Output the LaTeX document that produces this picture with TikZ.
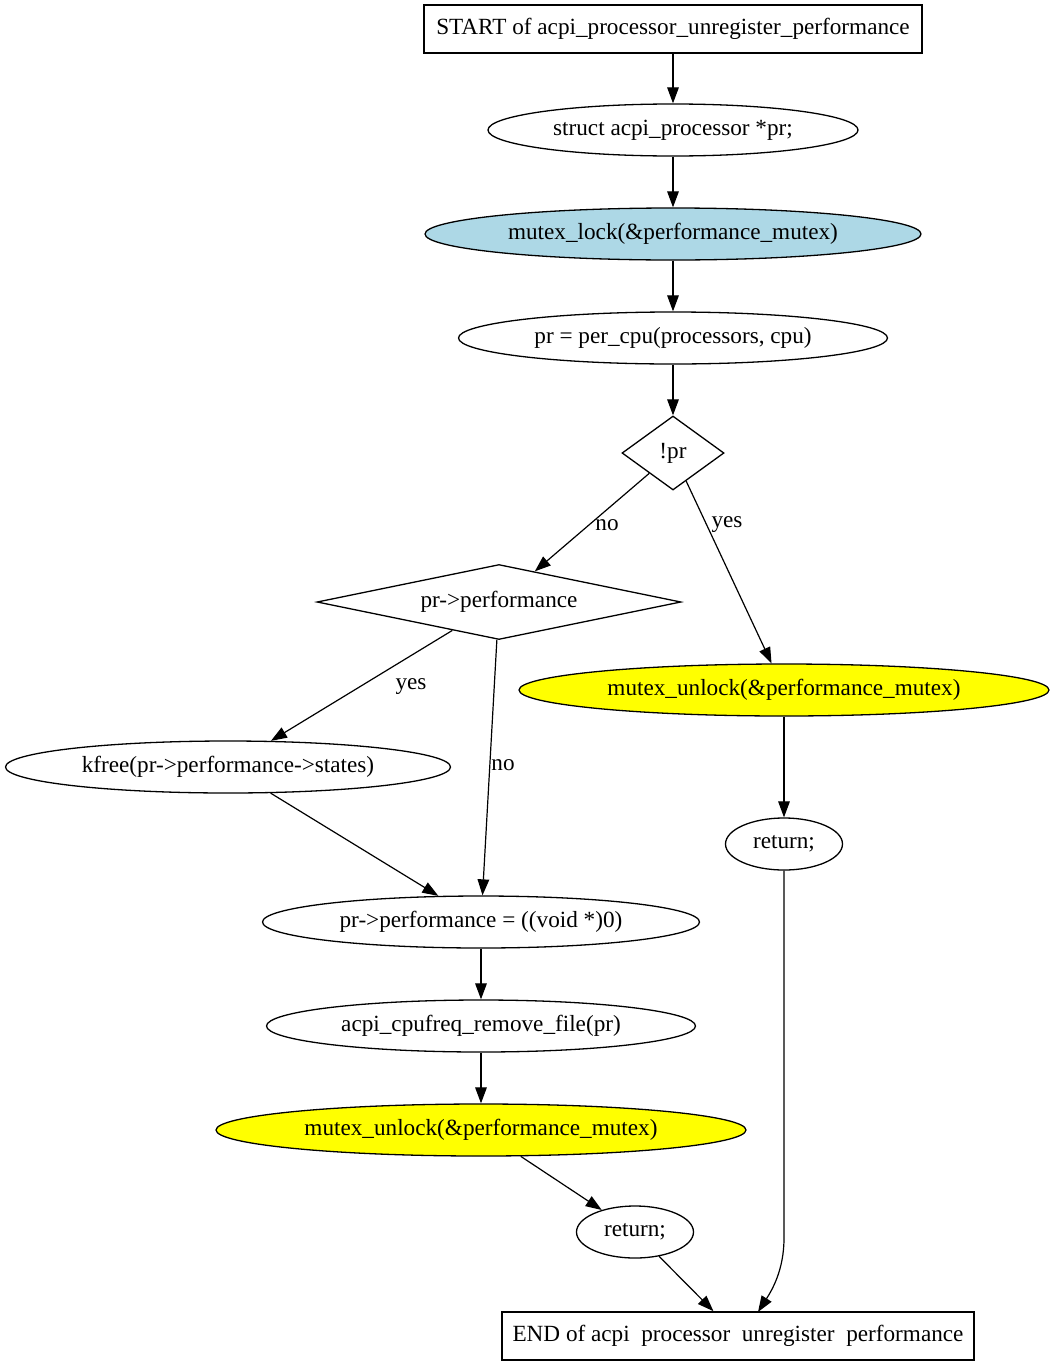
\documentclass[tikz,border=0pt]{standalone}
\usepackage{fontspec}
\setmainfont{Liberation Serif}
\usetikzlibrary{shapes.geometric,arrows.meta}
\definecolor{gvyellow}{RGB}{255,255,0}
\definecolor{gvblue}{RGB}{173,216,230}
\begin{document}
\begin{tikzpicture}[x=1pt,y=-1pt,
  every node/.style={font=\fontsize{23.2}{27}\selectfont, inner sep=0pt},
  boxnode/.style={draw, line width=1.66pt, rectangle, minimum height=48pt},
  ell/.style={draw, line width=1.3pt, ellipse, minimum height=52pt},
  dia/.style={draw, line width=1.3pt, diamond},
  edge/.style={draw, line width=1.2pt, -{Triangle[length=16pt,width=11.6pt]}},
  lbl/.style={}]
\useasboundingbox (0,0) rectangle (1055,1365);
\node[boxnode, minimum width=498pt] (start) at (673,29) {START of acpi\_processor\_unregister\_performance};
\node[ell, minimum width=370pt] (decl) at (673,130) {struct acpi\_processor *pr;};
\node[ell, minimum width=496pt, fill=gvblue] (lock) at (673,234) {mutex\_lock(\&performance\_mutex)};
\node[ell, minimum width=429pt] (percpu) at (673,338) {pr = per\_cpu(processors, cpu)};
\node[dia, minimum width=102pt, minimum height=74pt, aspect=1.38] (npr) at (673,453) {!pr};
\node[dia, minimum width=364pt, minimum height=75pt, aspect=4.85] (perf) at (499,602) {pr->performance};
\node[ell, minimum width=530pt, fill=gvyellow] (unlockr) at (784,690) {mutex\_unlock(\&performance\_mutex)};
\node[ell, minimum width=445pt] (kfree) at (228,767) {kfree(pr->performance->states)};
\node[ell, minimum width=117pt] (retr) at (784,844) {return;};
\node[ell, minimum width=437pt] (perfnull) at (481,922) {pr->performance = ((void *)0)};
\node[ell, minimum width=429pt] (rmfile) at (481,1026) {acpi\_cpufreq\_remove\_file(pr)};
\node[ell, minimum width=530pt, fill=gvyellow] (unlockb) at (481,1130) {mutex\_unlock(\&performance\_mutex)};
\node[ell, minimum width=117pt] (retb) at (635,1232) {return;};
\node[boxnode, minimum width=472pt] (end) at (738,1336) {END of acpi\hphantom{\_}processor\hphantom{\_}unregister\hphantom{\_}performance};
\coordinate (bend) at (784,1238);
\coordinate (endin) at (758,1312);
\path[edge] (start) -- (decl);
\path[edge] (decl) -- (lock);
\path[edge] (lock) -- (percpu);
\path[edge] (percpu) -- (npr);
\path[edge] (npr) -- (perf);
\path[edge] (npr) -- (unlockr);
\path[edge] (perf) -- (kfree);
\path[edge] (perf) -- (perfnull);
\path[edge] (kfree) -- (perfnull);
\path[edge] (unlockr) -- (retr);
\path[edge] (perfnull) -- (rmfile);
\path[edge] (rmfile) -- (unlockb);
\path[edge] (unlockb) -- (retb);
\path[edge] (retb) -- (end);
\path[edge] (retr) -- (bend) .. controls (784,1270) and (772,1290) .. (endin);
\node[lbl] (lno1) at (607,525) {no};
\node[lbl] (lyes1) at (727,525) {yes};
\node[lbl] (lyes2) at (411,687) {yes};
\node[lbl] (lno2) at (503,765) {no};
\end{tikzpicture}
\end{document}
